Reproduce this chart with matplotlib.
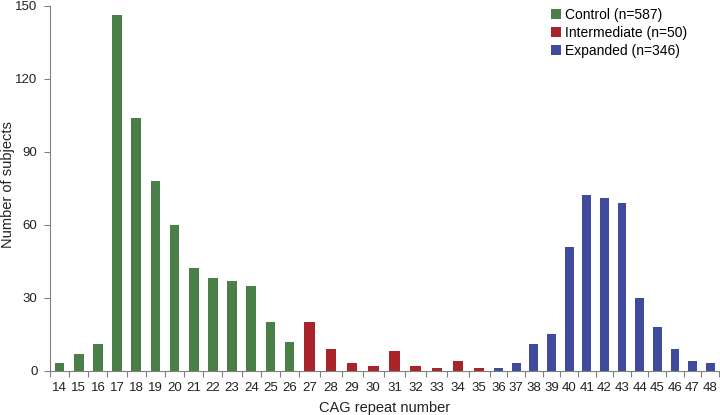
import numpy as np
import matplotlib.pyplot as plt

plt.rcParams["font.family"] = ["Liberation Sans", "DejaVu Sans"]

# CAG repeat counts per group
control_repeats = [14, 15, 16, 17, 18, 19, 20, 21, 22, 23, 24, 25, 26]
control_counts = [3, 7, 11, 146, 104, 78, 60, 42, 38, 37, 35, 20, 12]

intermediate_repeats = [27, 28, 29, 30, 31, 32, 33, 34, 35]
intermediate_counts = [20, 9, 3, 2, 8, 2, 1, 4, 1]

expanded_repeats = [36, 37, 38, 39, 40, 41, 42, 43, 44, 45, 46, 47, 48]
expanded_counts = [1, 3, 11, 15, 51, 72, 71, 69, 30, 18, 9, 4, 3]

labels = ["Control (n=587)", "Intermediate (n=50)", "Expanded (n=346)"]
colors = ["#4a8048", "#a8232a", "#3f4b9c"]

# each group has slightly different slot width in the original figure
slot_widths = [1.0, 1.105, 0.92]

groups = [
    (control_repeats, control_counts),
    (intermediate_repeats, intermediate_counts),
    (expanded_repeats, expanded_counts),
]

fig = plt.figure(figsize=(7.2, 4.15), dpi=100)
ax = fig.add_axes([50 / 720, 1 - 370.7 / 415, 669 / 720, 365 / 415])

edges = [0.0]
centers = []
tick_names = []
handles = []
start = 0.0
for (reps, counts), slot, color, label in zip(groups, slot_widths, colors, labels):
    pos = start + slot * (np.arange(len(reps)) + 0.5)
    h = ax.bar(pos, counts, width=0.5 * slot, color=color, label=label, zorder=2)
    handles.append(h)
    centers.extend(pos)
    tick_names.extend(str(r) for r in reps)
    edges.extend(start + slot * (np.arange(len(reps)) + 1))
    start = edges[-1]

ax.set_xlim(0, start)
ax.set_ylim(0, 150)
ax.set_yticks([0, 30, 60, 90, 120, 150])

ax.set_xticks(edges)
ax.set_xticklabels([])
ax.set_xticks(centers, minor=True)
ax.set_xticklabels(tick_names, minor=True)
ax.tick_params(axis="x", which="major", length=4, width=0.8, color="#808080")
ax.tick_params(axis="x", which="minor", length=0, pad=8, labelsize=9.5, labelcolor="#222222")
ax.tick_params(axis="y", length=4, width=0.8, color="#808080", labelsize=9.5,
               labelcolor="#222222", pad=5)

for side in ["top", "right"]:
    ax.spines[side].set_visible(False)
for side in ["left", "bottom"]:
    ax.spines[side].set_color("#808080")
    ax.spines[side].set_linewidth(0.8)

ax.set_xlabel("CAG repeat number", fontsize=10.5, color="#222222")
ax.set_ylabel("Number of subjects", fontsize=10.5, color="#222222")
ax.xaxis.set_label_coords(0.5, -0.102)
ax.xaxis.label.set_va("center")
ax.yaxis.set_label_coords(-0.063, 0.51)
ax.yaxis.label.set_va("center")

ax.legend(handles=handles, loc="upper left", bbox_to_anchor=(0.749, 0.995), frameon=False,
          fontsize=10, handlelength=0.7, handleheight=0.7, handletextpad=0.3,
          labelspacing=0.3, borderaxespad=0, borderpad=0)

fig.savefig("out.png", dpi=100)
